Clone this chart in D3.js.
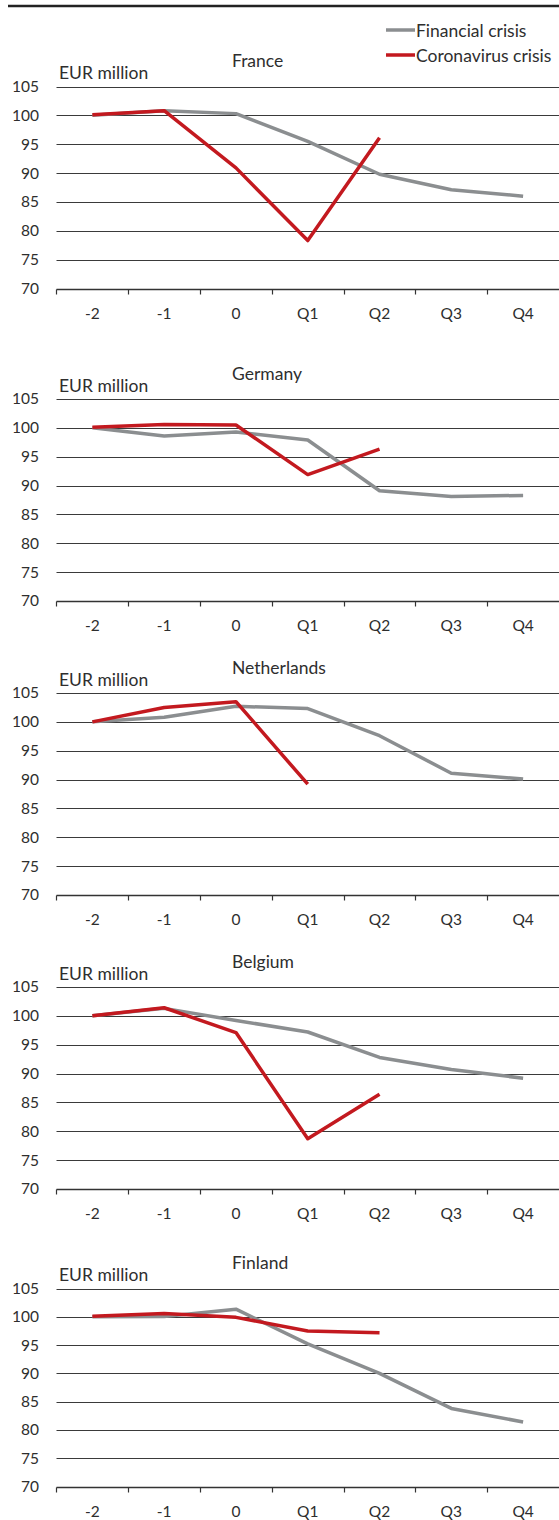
<!DOCTYPE html>
<html>
<head>
<meta charset="utf-8">
<script src="https://cdn.jsdelivr.net/npm/d3@7/dist/d3.min.js"></script>
<style>
  html, body { margin: 0; padding: 0; background: #fff; }
  svg { display: block; }
  text { font-family: Lato, "Noto Sans", sans-serif; fill: #2e2e2e; }
</style>
</head>
<body>
<svg id="chart" width="559" height="1520"></svg>
<script>
// Quarters relative to the start of each crisis
const quarters = ["-2", "-1", "0", "Q1", "Q2", "Q3", "Q4"];
const yTicks = [70, 75, 80, 85, 90, 95, 100, 105];
const countries = ["France", "Germany", "Netherlands", "Belgium", "Finland"];
const seriesNames = ["Financial crisis", "Coronavirus crisis"];

// Index, 100 = two quarters before the crisis
const franceFinancial      = [100, 100.8, 100.3, 95.5, 89.8, 87.1, 86.0];
const franceCorona         = [100.1, 100.8, 90.9, 78.3, 96.1];
const germanyFinancial     = [100, 98.6, 99.3, 97.9, 89.1, 88.1, 88.3];
const germanyCorona        = [100.1, 100.6, 100.5, 91.9, 96.3];
const netherlandsFinancial = [100, 100.8, 102.7, 102.3, 97.6, 91.1, 90.1];
const netherlandsCorona    = [100, 102.5, 103.5, 89.2];
const belgiumFinancial     = [100, 101.3, 99.2, 97.2, 92.8, 90.7, 89.2];
const belgiumCorona        = [100, 101.4, 97.1, 78.7, 86.4];
const finlandFinancial     = [100, 100.05, 101.35, 95.2, 90.0, 83.8, 81.4];
const finlandCorona        = [100.1, 100.6, 99.9, 97.5, 97.2];

const financialByCountry = [franceFinancial, germanyFinancial, netherlandsFinancial, belgiumFinancial, finlandFinancial];
const coronaByCountry    = [franceCorona, germanyCorona, netherlandsCorona, belgiumCorona, finlandCorona];

const colors = { financial: "#8b8e90", corona: "#c3191f" };

const svg = d3.select("#chart");
const W = 559;
const plotLeft = 56.5, plotRight = 559;
const panelTops = [86.5, 399, 693, 987, 1288.5];
const panelHeights = [202, 202, 202, 202, 198];

const x = d3.scaleBand().domain(quarters).range([plotLeft, plotRight]).padding(0);

// Rule across the top
svg.append("line")
  .attr("x1", 8).attr("x2", W).attr("y1", 6).attr("y2", 6)
  .attr("stroke", "#222").attr("stroke-width", 2.5);

// Legend
const legend = svg.append("g");
seriesNames.forEach((name, i) => {
  const ly = 30 + i * 25;
  legend.append("line")
    .attr("x1", 386).attr("x2", 415).attr("y1", ly).attr("y2", ly)
    .attr("stroke", i === 0 ? colors.financial : colors.corona)
    .attr("stroke-width", 3.5);
  legend.append("text")
    .attr("x", 416).attr("y", ly)
    .attr("dominant-baseline", "central")
    .style("font-size", "17.5px")
    .text(name);
});

countries.forEach((country, ci) => {
  const top = panelTops[ci];
  const y = d3.scaleLinear().domain([70, 105]).range([top + panelHeights[ci], top]);
  const g = svg.append("g");

  // Horizontal gridlines (baseline drawn by the x axis)
  g.append("g")
    .selectAll("line")
    .data(yTicks.filter(t => t > 70))
    .join("line")
    .attr("x1", plotLeft).attr("x2", plotRight)
    .attr("y1", d => Math.round(y(d)) + 0.5).attr("y2", d => Math.round(y(d)) + 0.5)
    .attr("stroke", "#3a3a3a").attr("stroke-width", 1);

  // Y axis labels
  const yAxis = d3.axisLeft(y).tickValues(yTicks).tickSize(0).tickPadding(0);
  const yg = g.append("g").attr("transform", `translate(39,0)`).call(yAxis);
  yg.select(".domain").remove();
  yg.selectAll("text")
    .attr("x", 0)
    .style("font-family", "Lato, 'Noto Sans', sans-serif")
    .style("font-size", "15.5px").attr("fill", "#2e2e2e");

  // X axis with ticks at band boundaries
  const axisY = Math.round(y(70)) + 0.5;
  const xg = g.append("g").attr("transform", `translate(0,${axisY})`);
  xg.append("line")
    .attr("x1", plotLeft).attr("x2", plotRight)
    .attr("stroke", "#333").attr("stroke-width", 1.3);
  xg.selectAll("line.tick")
    .data(quarters)
    .join("line")
    .attr("class", "tick")
    .attr("x1", d => Math.round(x(d)) + 0.5).attr("x2", d => Math.round(x(d)) + 0.5)
    .attr("y1", 0).attr("y2", 5)
    .attr("stroke", "#333").attr("stroke-width", 1.2);
  xg.selectAll("text")
    .data(quarters)
    .join("text")
    .attr("x", d => x(d) + x.bandwidth() / 2)
    .attr("y", 23)
    .attr("text-anchor", "middle")
    .attr("dominant-baseline", "central")
    .style("font-size", "15.5px")
    .text(d => d);

  // Country title and unit label
  g.append("text")
    .attr("x", 232).attr("y", top - 26)
    .attr("dominant-baseline", "central")
    .style("font-size", "17.5px")
    .text(country);
  g.append("text")
    .attr("x", 59).attr("y", top - 14)
    .attr("dominant-baseline", "central")
    .style("font-size", "17.5px")
    .text("EUR million");

  const line = d3.line()
    .x((d, i) => x(quarters[i]) + x.bandwidth() / 2)
    .y(d => y(d));

  g.append("path")
    .datum(financialByCountry[ci])
    .attr("d", line)
    .attr("fill", "none")
    .attr("stroke", colors.financial)
    .attr("stroke-width", 3.5)
    .attr("stroke-linejoin", "round");

  g.append("path")
    .datum(coronaByCountry[ci])
    .attr("d", line)
    .attr("fill", "none")
    .attr("stroke", colors.corona)
    .attr("stroke-width", 3.5)
    .attr("stroke-linejoin", "round");
});
</script>
</body>
</html>
